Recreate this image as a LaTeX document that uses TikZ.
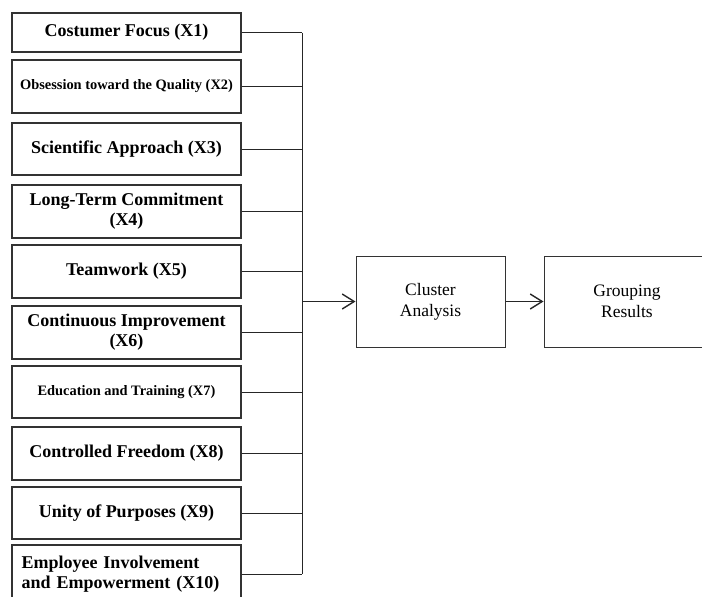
\documentclass[tikz,border=0pt]{standalone}
\usepackage{fontspec}
\setmainfont{Liberation Serif}
\usetikzlibrary{arrows.meta}
\begin{document}
\begin{tikzpicture}[x=1pt,y=-1pt,
    factor/.style={draw=black!80, line width=1.1pt, minimum width=229pt, inner sep=2pt,
      font=\bfseries\fontsize{18}{20}\selectfont},
    small/.style={font=\bfseries\fontsize{14.4}{16}\selectfont},
    stage/.style={draw=black!80, line width=1pt, minimum height=91pt, inner sep=2pt,
      align=center, font=\fontsize{17.5}{21}\selectfont},
    link/.style={draw=black!85, line width=1pt},
    flow/.style={link, line width=1.3pt, -{Straight Barb[length=12pt,width=15pt,line width=1.4pt]}}]
            \useasboundingbox (0,0) rectangle (702,597);
            \clip (0,0) rectangle (702,597);
            % left column of factors
            \node[factor, minimum height=39pt] (x1) at (126.5,32.5) {Costumer Focus (X1)};
            \node[factor, small, minimum height=53pt] (x2) at (126.5,86.5) {Obsession toward the Quality (X2)};
            \node[factor, minimum height=52pt] (x3) at (126.5,149) {Scientific Approach (X3)};
            \node[factor, minimum height=53pt, align=center] (x4) at (126.5,211.5) {Long-Term Commitment\\(X4)};
            \node[factor, minimum height=53pt] (x5) at (126.5,271.5) {Teamwork (X5)};
            \node[factor, minimum height=53pt, align=center] (x6) at (126.5,332.5) {Continuous Improvement\\(X6)};
            \node[factor, small, minimum height=52pt] (x7) at (126.5,392) {Education and Training (X7)};
            \node[factor, minimum height=53pt] (x8) at (126.5,453.5) {Controlled Freedom (X8)};
            \node[factor, minimum height=52pt] (x9) at (126.5,513) {Unity of Purposes (X9)};
            \node[factor, minimum height=58pt, align=left, text width=210pt] (x10) at (126.5,574) {Employee Involvement\\and Empowerment (X10)};
            % bus
            \coordinate (bus) at (302,0);
            \foreach \i in {1,...,10}
                \draw[link] (x\i.east) -- (x\i.east -| bus);
            \draw[link] (x1.east -| bus) -- (x10.east -| bus);
            % right part
            \node[stage, minimum width=149pt] (cluster) at (430.5,301.5) {Cluster\\Analysis};
            \node[stage, minimum width=166pt] (results) at (627,301.5) {Grouping\\Results};
            \draw[flow] (cluster.west -| bus) -- (cluster.west);
            \draw[flow] (cluster.east) -- (results.west);
        \end{tikzpicture}
\end{document}
